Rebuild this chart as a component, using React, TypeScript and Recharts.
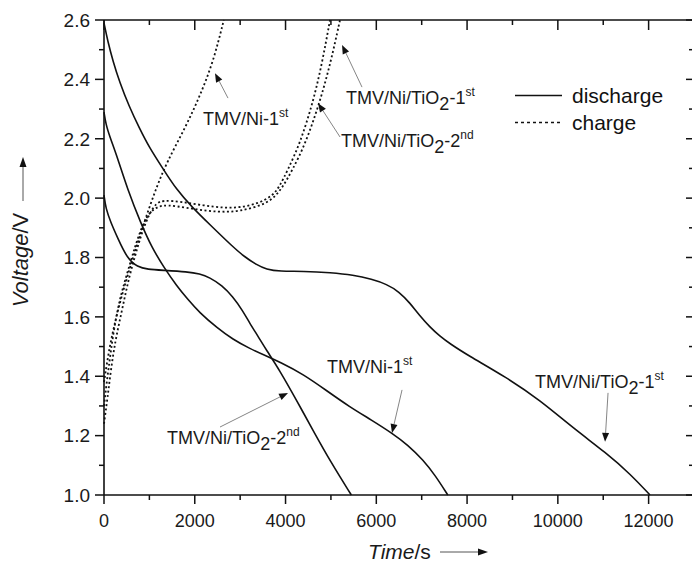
import React from 'react'
import { LineChart, Line, XAxis, YAxis, ReferenceLine, ReferenceDot, Legend, Label } from 'recharts'

const FONT = '"Liberation Sans", Arial, Helvetica, sans-serif'
const INK = '#111'

// [time in s, voltage in V]
const tio2FirstDischarge: [number, number][] = [
  [0, 2.59], [80, 2.53], [200, 2.46], [342, 2.392], [550, 2.31], [782, 2.235], [1000, 2.17],
  [1296, 2.1], [1590, 2.03], [1950, 1.968], [2325, 1.912], [2838, 1.836], [3100, 1.802],
  [3354, 1.776], [3580, 1.76], [3870, 1.753], [4390, 1.754], [5000, 1.749], [5490, 1.741],
  [5900, 1.727], [6230, 1.71], [6500, 1.685], [6740, 1.647], [6950, 1.605], [7180, 1.566],
  [7400, 1.535], [7620, 1.51], [8000, 1.472], [8870, 1.396], [9600, 1.32], [10340, 1.225],
  [11080, 1.14], [11600, 1.07], [12030, 1.0],
]
const niFirstDischarge: [number, number][] = [
  [0, 2.29], [40, 2.25], [120, 2.21], [300, 2.135], [518, 2.03], [812, 1.915], [1050, 1.835],
  [1326, 1.765], [1600, 1.705], [1840, 1.66], [2100, 1.615], [2500, 1.562], [2840, 1.524],
  [3200, 1.494], [3580, 1.468], [3870, 1.448], [4390, 1.407], [4900, 1.352], [5410, 1.297],
  [5900, 1.252], [6340, 1.209], [6700, 1.168], [7030, 1.118], [7300, 1.066], [7575, 1.0],
]
const tio2SecondDischarge: [number, number][] = [
  [0, 2.01], [40, 1.965], [150, 1.918], [300, 1.866], [518, 1.795], [740, 1.768], [960, 1.76],
  [1300, 1.757], [1840, 1.752], [2110, 1.745], [2325, 1.733], [2600, 1.706], [2838, 1.668],
  [3050, 1.622], [3206, 1.58], [3400, 1.533], [3574, 1.489], [3867, 1.421], [4250, 1.317],
  [4601, 1.219], [5000, 1.11], [5450, 1.0],
]
const niFirstCharge: [number, number][] = [
  [0, 1.38], [60, 1.44], [150, 1.52], [300, 1.62], [500, 1.73], [700, 1.83], [900, 1.925],
  [1140, 2.03], [1380, 2.12], [1800, 2.24], [2115, 2.345], [2410, 2.46], [2640, 2.6],
]
const tio2FirstCharge: [number, number][] = [
  [0, 1.3], [60, 1.38], [130, 1.46], [200, 1.54], [300, 1.625], [400, 1.69], [560, 1.772],
  [700, 1.845], [850, 1.91], [1000, 1.952], [1200, 1.973], [1400, 1.977], [1800, 1.968],
  [2300, 1.956], [2700, 1.953], [3000, 1.957], [3400, 1.972], [3720, 1.995], [3950, 2.04],
  [4150, 2.095], [4430, 2.18], [4750, 2.32], [5000, 2.46], [5200, 2.6],
]
const tio2SecondCharge: [number, number][] = [
  [0, 1.24], [80, 1.33], [150, 1.42], [250, 1.52], [365, 1.6], [475, 1.68], [585, 1.752],
  [740, 1.835], [850, 1.89], [1000, 1.948], [1150, 1.983], [1300, 1.993], [1700, 1.988],
  [2200, 1.975], [2650, 1.967], [3000, 1.968], [3400, 1.982], [3720, 2.008], [3870, 2.04],
  [4050, 2.095], [4320, 2.185], [4600, 2.32], [4800, 2.45], [4980, 2.6],
]

const timeTicks = [0, 1000, 2000, 3000, 4000, 5000, 6000, 7000, 8000, 9000, 10000, 11000, 12000, 13000]
const timeLabels = [0, 2000, 4000, 6000, 8000, 10000, 12000]
const voltTicks = [1.0, 1.1, 1.2, 1.3, 1.4, 1.5, 1.6, 1.7, 1.8, 1.9, 2.0, 2.1, 2.2, 2.3, 2.4, 2.5, 2.6]
const voltLabels = [1.0, 1.2, 1.4, 1.6, 1.8, 2.0, 2.2, 2.4, 2.6]

const T_MIN = 0
const T_MAX = 13000
const V_MIN = 1.0
const V_MAX = 2.6

const legendItems = [
  { name: 'discharge', dashed: false },
  { name: 'charge', dashed: true },
]

const series = [
  { key: 'tio2-1-d', rows: tio2FirstDischarge, dashed: false },
  { key: 'ni-1-d', rows: niFirstDischarge, dashed: false },
  { key: 'tio2-2-d', rows: tio2SecondDischarge, dashed: false },
  { key: 'ni-1-c', rows: niFirstCharge, dashed: true },
  { key: 'tio2-1-c', rows: tio2FirstCharge, dashed: true },
  { key: 'tio2-2-c', rows: tio2SecondCharge, dashed: true },
]

// callouts: text anchor (baseline start), arrow tail and arrow tip, all in data units
const callouts = [
  { id: 'a1', tio2: false, cycle: '1', ord: 'st', text: [2182, 2.246], tail: [2732, 2.337], tip: [2446, 2.421] },
  { id: 'a2', tio2: true, cycle: '1', ord: 'st', text: [5333, 2.317], tail: [5685, 2.374], tip: [5245, 2.516] },
  { id: 'a3', tio2: true, cycle: '2', ord: 'nd', text: [5222, 2.172], tail: [5200, 2.206], tip: [4716, 2.32] },
  { id: 'a4', tio2: true, cycle: '2', ord: 'nd', text: [1388, 1.172], tail: [2556, 1.229], tip: [4055, 1.344] },
  { id: 'a5', tio2: false, cycle: '1', ord: 'st', text: [4914, 1.411], tail: [6567, 1.354], tip: [6346, 1.209] },
  { id: 'a6', tio2: true, cycle: '1', ord: 'st', text: [9498, 1.361], tail: [11106, 1.344], tip: [11040, 1.179] },
]

const toPoints = (rows: [number, number][]) => rows.map(([t, v]) => ({ t, v }))

const isMajorTime = (v: number) => v % 2000 === 0
const isMajorVolt = (v: number) => Math.round(v * 10) % 2 === 0

// tick marks drawn as reference lines anchored on the frame; dx/dy is the pixel direction
const frameTicks = [
  ...timeTicks.map((t) => ({ id: `b${t}`, x: t, y: V_MIN, dx: 0, dy: isMajorTime(t) ? 9 : 5 })),
  ...timeTicks.map((t) => ({ id: `t${t}`, x: t, y: V_MAX, dx: 0, dy: isMajorTime(t) ? 10 : 5 })),
  ...voltTicks.map((v) => ({ id: `l${v}`, x: T_MIN, y: v, dx: isMajorVolt(v) ? -9 : -5, dy: 0 })),
  ...voltTicks.map((v) => ({ id: `r${v}`, x: T_MAX, y: v, dx: isMajorVolt(v) ? -8 : -5, dy: 0 })),
]

function TickMark({ x1, y1, dx, dy }: any) {
  return <path d={`M${x1},${y1}L${x1 + dx},${y1 + dy}`} stroke={INK} strokeWidth={1.5} fill="none" />
}

function BottomLabel({ x, y, payload }: any) {
  const v = payload.value
  if (!timeLabels.includes(v)) return <g />
  return (
    <text x={x} y={y + 32} textAnchor="middle" fontSize={18} fontFamily={FONT} fill="#1a1a1a">
      {v}
    </text>
  )
}

function LeftLabel({ x, y, payload }: any) {
  const v = payload.value
  if (!voltLabels.some((l) => Math.abs(l - v) < 1e-6)) return <g />
  return (
    <text x={x - 14} y={y} dy="0.36em" textAnchor="end" fontSize={19} fontFamily={FONT} fill="#1a1a1a">
      {Number(v).toFixed(1)}
    </text>
  )
}

const blankTick = () => <g />

function Arrow({ x1, y1, x2, y2 }: any) {
  const a = Math.atan2(y2 - y1, x2 - x1)
  const len = 9
  const hw = 3.5
  const bx = x2 - len * Math.cos(a)
  const by = y2 - len * Math.sin(a)
  const pts = [
    [x2, y2],
    [bx + hw * Math.sin(a), by - hw * Math.cos(a)],
    [bx - hw * Math.sin(a), by + hw * Math.cos(a)],
  ]
  return (
    <g>
      <line x1={x1} y1={y1} x2={bx} y2={by} stroke="#777" strokeWidth={0.9} />
      <polygon points={pts.map((p) => p.join(',')).join(' ')} fill={INK} />
    </g>
  )
}

function Tag({ cx, cy, tio2, cycle, ord }: any) {
  return (
    <text x={cx} y={cy} fontSize={18} fontFamily={FONT} fill="#1a1a1a">
      {tio2 ? (
        <>
          TMV/Ni/TiO<tspan dy={6}>2</tspan>
          <tspan dy={-6}>-{cycle}</tspan>
        </>
      ) : (
        <>TMV/Ni-{cycle}</>
      )}
      <tspan dy={-8} fontSize={12}>
        {ord}
      </tspan>
    </text>
  )
}

function XTitle({ viewBox }: any) {
  const { x = 104, y = 495 } = viewBox || {}
  const ay = y + 57
  return (
    <g>
      <text x={x + 264} y={y + 64} fontSize={21} fontFamily={FONT} fill="#1a1a1a">
        <tspan fontStyle="italic">Time</tspan>/s
      </text>
      <line x1={x + 336} x2={x + 376} y1={ay} y2={ay} stroke="#555" strokeWidth={1} />
      <polygon points={`${x + 384},${ay} ${x + 374},${ay - 3.5} ${x + 374},${ay + 3.5}`} fill={INK} />
    </g>
  )
}

function YTitle({ viewBox }: any) {
  const { x = 0, y = 20 } = viewBox || {}
  const tx = x + 28
  const ty = y + 240
  const ax = x + 23
  return (
    <g>
      <text
        x={tx}
        y={ty}
        transform={`rotate(-90, ${tx}, ${ty})`}
        textAnchor="middle"
        fontSize={22}
        fontFamily={FONT}
        fill="#1a1a1a"
      >
        <tspan fontStyle="italic">Voltage</tspan>/V
      </text>
      <line x1={ax} x2={ax} y1={y + 181} y2={y + 146} stroke="#555" strokeWidth={1} />
      <polygon points={`${ax},${y + 137} ${ax - 3.5},${y + 147} ${ax + 3.5},${y + 147}`} fill={INK} />
    </g>
  )
}

function LegendBox() {
  return (
    <div style={{ fontFamily: FONT, fontSize: 21, color: '#111' }}>
      {legendItems.map((it) => (
        <div key={it.name} style={{ display: 'flex', alignItems: 'center', height: 27 }}>
          <svg width={57} height={27} style={{ display: 'block' }}>
            <line
              x1={0}
              x2={47}
              y1={13.5}
              y2={13.5}
              stroke={INK}
              strokeWidth={it.dashed ? 1.3 : 1.5}
              strokeDasharray={it.dashed ? '3 3' : undefined}
            />
          </svg>
          <span style={{ lineHeight: '27px' }}>{it.name}</span>
        </div>
      ))}
    </div>
  )
}

export default function App() {
  return (
    <div
      style={{ position: 'absolute', left: 0, top: 0, width: 692, height: 563, overflow: 'hidden', background: '#fff' }}
    >
      <LineChart width={700} height={563} margin={{ top: 19, right: 5, bottom: 0, left: 0 }}>
        <XAxis
          dataKey="t"
          type="number"
          domain={[T_MIN, T_MAX]}
          ticks={timeTicks}
          interval={0}
          height={68}
          tickSize={0}
          tickMargin={0}
          tickLine={false}
          tick={(p: any) => <BottomLabel {...p} />}
          axisLine={{ stroke: INK, strokeWidth: 1.6 }}
        >
          <Label content={XTitle} />
        </XAxis>
        <XAxis
          xAxisId="top"
          orientation="top"
          type="number"
          domain={[T_MIN, T_MAX]}
          ticks={timeTicks}
          height={1}
          tickSize={0}
          tickLine={false}
          tick={blankTick}
          axisLine={{ stroke: INK, strokeWidth: 1.3 }}
        />
        <YAxis
          type="number"
          domain={[V_MIN, V_MAX]}
          ticks={voltTicks}
          interval={0}
          width={104}
          tickSize={0}
          tickMargin={0}
          tickLine={false}
          tick={(p: any) => <LeftLabel {...p} />}
          axisLine={{ stroke: INK, strokeWidth: 1.6 }}
        >
          <Label content={YTitle} />
        </YAxis>
        <YAxis
          yAxisId="right"
          orientation="right"
          type="number"
          domain={[V_MIN, V_MAX]}
          ticks={voltTicks}
          width={1}
          tickSize={0}
          tickLine={false}
          tick={blankTick}
          axisLine={{ stroke: INK, strokeWidth: 1.3 }}
        />
        <Legend
          layout="vertical"
          align="center"
          verticalAlign="middle"
          content={LegendBox}
          wrapperStyle={{ left: 515, top: 82, width: 180 }}
        />
        {frameTicks.map((k) => (
          <ReferenceLine
            key={k.id}
            ifOverflow="visible"
            segment={[
              { x: k.x, y: k.y },
              { x: k.x, y: k.y },
            ]}
            shape={(p: any) => <TickMark x1={p.x1} y1={p.y1} dx={k.dx} dy={k.dy} />}
          />
        ))}
        {series.map((s) => (
          <Line
            key={s.key}
            data={toPoints(s.rows)}
            dataKey="v"
            type="basis"
            stroke={INK}
            strokeWidth={s.dashed ? 1.8 : 1.6}
            strokeDasharray={s.dashed ? '2 2.5' : undefined}
            dot={false}
            activeDot={false}
            legendType="none"
            isAnimationActive={false}
          />
        ))}
        {callouts.map((c) => (
          <ReferenceLine
            key={c.id + '-arrow'}
            segment={[
              { x: c.tail[0], y: c.tail[1] },
              { x: c.tip[0], y: c.tip[1] },
            ]}
            shape={(p: any) => <Arrow {...p} />}
          />
        ))}
        {callouts.map((c) => (
          <ReferenceDot
            key={c.id + '-text'}
            x={c.text[0]}
            y={c.text[1]}
            r={1}
            shape={(p: any) => <Tag cx={p.cx} cy={p.cy} tio2={c.tio2} cycle={c.cycle} ord={c.ord} />}
          />
        ))}
      </LineChart>
    </div>
  )
}
